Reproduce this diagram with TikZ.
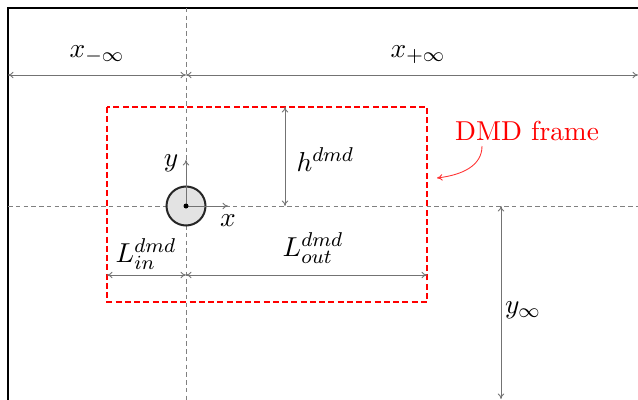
\documentclass[tikz,border=0pt]{standalone}
\usetikzlibrary{arrows.meta}
\begin{document}
\begin{tikzpicture}[x=0.4pt,y=-0.4pt,
  every node/.style={font=\fontsize{10.95}{13.6}\selectfont},
  dim/.style={gray!90!black,line width=0.35pt,{To[length=2.2pt,width=2.6pt]}-{To[length=2.2pt,width=2.6pt]}},
  axisline/.style={gray,line width=0.4pt,dash pattern=on 1.8pt off 1.3pt},
  dmdbox/.style={red,line width=0.9pt,dash pattern=on 2.4pt off 1.3pt},
  lbl/.style={inner sep=0pt}]
\useasboundingbox (0,0) rectangle (638,399);
\clip (0,0) rectangle (638,399);
% outer domain
\draw[line width=1.1pt] (8,8) rectangle (720,460);
% axes dashed
\coordinate (vt) at (186,8);
\coordinate (vb) at (186,420);
\coordinate (hl) at (8,206);
\coordinate (hr) at (660,206);
\draw[axisline] (vt) -- (vb);
\draw[axisline] (hl) -- (hr);
% x infinity arrows
\coordinate (xl) at (8,75);
\coordinate (xm) at (186,75);
\coordinate (xr) at (638,75);
\draw[dim] (xl) -- (xm);
\draw[dim] (xm) -- (xr);
\node[lbl] (xmi) at (97,55) {$x_{-\infty}$};
\node[lbl] (xpi) at (418,55) {$x_{+\infty}$};
% DMD frame
\coordinate (b1) at (107,107);
\coordinate (b2) at (427,302);
\draw[dmdbox] (b1) rectangle (b2);
\node[red,lbl] (dmd) at (527,131) {DMD frame};
\coordinate (dmdarr) at (437,178);
\draw[red!80,line width=0.35pt,-{To[length=2.2pt,width=2.6pt]}] (482,146) .. controls (482,166) and (462,175) .. (dmdarr);
% h dmd
\coordinate (ht) at (285,107);
\coordinate (hb) at (285,206);
\draw[dim] (ht) -- (hb);
\node[lbl,anchor=west] (hlab) at (296,160) {$h^{dmd}$};
% cylinder
\node[circle,draw=black!85,line width=0.8pt,fill=gray!22,inner sep=0pt,minimum size=15.6pt] (cyl) at (186,206) {};
\draw[gray!90!black,line width=0.35pt,-{To[length=2.2pt,width=2.6pt]}] (cyl.center) -- (186,160);
\draw[gray!90!black,line width=0.35pt,-{To[length=2.2pt,width=2.6pt]}] (cyl.center) -- (228,206);
\fill (cyl.center) circle (1pt);
\node[lbl] (ylab) at (171,163) {$y$};
\node[lbl] (xlab) at (228,221) {$x$};
% L in / out
\coordinate (li) at (107,275);
\coordinate (lm) at (186,275);
\coordinate (lo) at (427,275);
\draw[dim] (li) -- (lm);
\draw[dim] (lm) -- (lo);
\node[lbl] (lin) at (146,254) {$L_{in}^{dmd}$};
\node[lbl] (lout) at (313,248) {$L_{out}^{dmd}$};
% y infinity
\coordinate (yt) at (501,206);
\coordinate (yb) at (501,399);
\draw[dim] (yt) -- (yb);
\node[lbl] (yinf) at (523,310) {$y_{\infty}$};
\end{tikzpicture}
\end{document}
